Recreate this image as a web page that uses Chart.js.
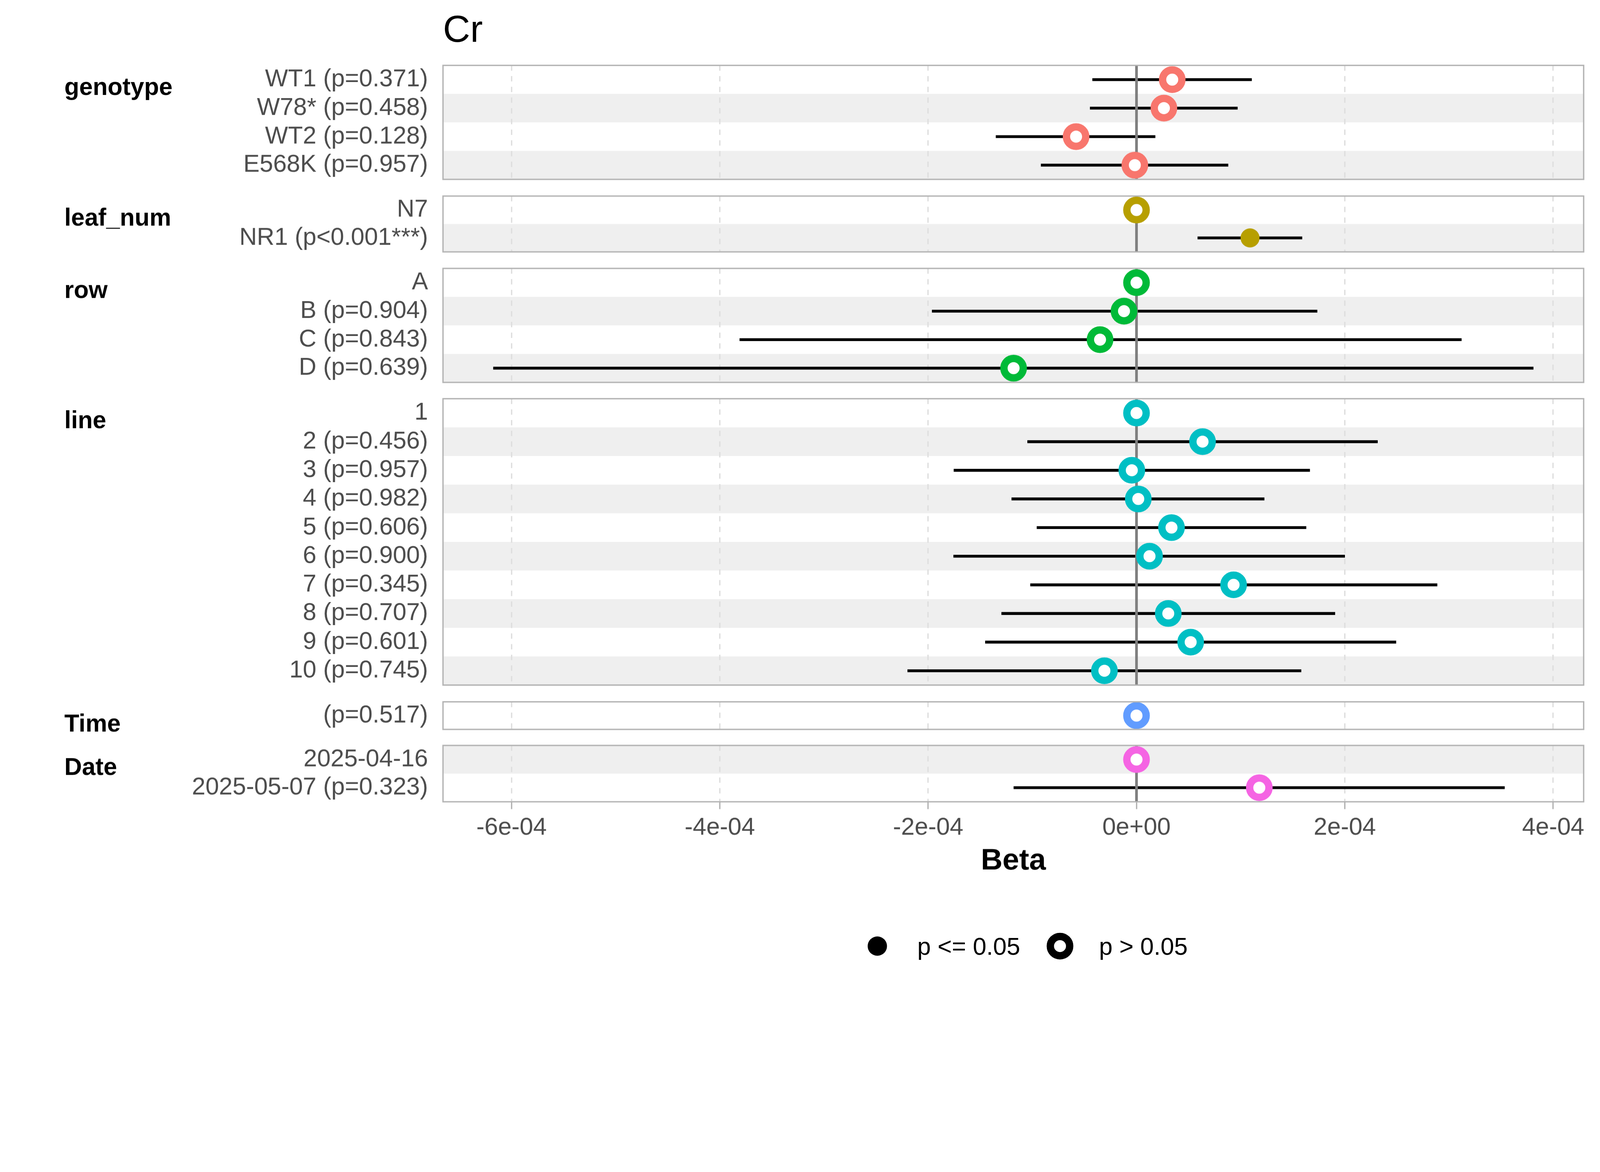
<!DOCTYPE html>
<html>
<head>
<meta charset="utf-8">
<title>Cr</title>
<script src="https://cdn.jsdelivr.net/npm/chart.js@4.4.1/dist/chart.umd.min.js"></script>
<style>
    html, body { margin: 0; padding: 0; background: #ffffff; overflow: hidden; }
    #viewport { position: relative; overflow: hidden; }
    #page {
        position: absolute;
        left: 0;
        top: 0;
        width: 4800px;
        height: 3000px;
        transform-origin: 0 0;
        font-family: "Liberation Sans", Arial, sans-serif;
    }
    #page canvas { position: absolute; left: 0; }
    #title {
        position: absolute;
        left: 1329px;
        top: 30px;
        font-size: 113px;
        line-height: 1;
        color: #000000;
    }
    .legend-text {
        position: absolute;
        top: 2802px;
        font-size: 73px;
        line-height: 1;
        color: #000000;
        white-space: nowrap;
    }
    .legend-dot {
        position: absolute;
        box-sizing: border-box;
        border-radius: 50%;
    }
</style>
</head>
<body>
<div id="viewport">
<div id="page">
    <div id="title">Cr</div>

    <div class="legend-dot" style="left:2603px; top:2809px; width:58px; height:58px; background:#000000;"></div>
    <div class="legend-text" style="left:2752px;">p &lt;= 0.05</div>
    <div class="legend-dot" style="left:3140px; top:2798px; width:80px; height:80px; background:#ffffff; border:22px solid #000000;"></div>
    <div class="legend-text" style="left:3297px;">p &gt; 0.05</div>
</div>
</div>

<script>
// ---- data (beta estimates, 95% CI and p-values) ----
const genotypeLabels = ['WT1 (p=0.371)', 'W78* (p=0.458)', 'WT2 (p=0.128)', 'E568K (p=0.957)'];
const genotypeBeta = [0.343e-4, 0.263e-4, -0.58e-4, -0.016e-4];
const genotypeLow = [-0.423e-4, -0.446e-4, -1.35e-4, -0.917e-4];
const genotypeHigh = [1.106e-4, 0.97e-4, 0.18e-4, 0.88e-4];
const genotypeP = [0.371, 0.458, 0.128, 0.957];

const leafLabels = ['N7', 'NR1 (p<0.001***)'];
const leafBeta = [0, 1.09e-4];
const leafLow = [null, 0.587e-4];
const leafHigh = [null, 1.59e-4];
const leafP = [null, 0.001];

const rowLabels = ['A', 'B (p=0.904)', 'C (p=0.843)', 'D (p=0.639)'];
const rowBeta = [0, -0.12e-4, -0.35e-4, -1.18e-4];
const rowLow = [null, -1.963e-4, -3.81e-4, -6.175e-4];
const rowHigh = [null, 1.735e-4, 3.12e-4, 3.81e-4];
const rowP = [null, 0.904, 0.843, 0.639];

const lineLabels = ['1', '2 (p=0.456)', '3 (p=0.957)', '4 (p=0.982)', '5 (p=0.606)',
    '6 (p=0.900)', '7 (p=0.345)', '8 (p=0.707)', '9 (p=0.601)', '10 (p=0.745)'];
const lineBeta = [0, 0.634e-4, -0.045e-4, 0.017e-4, 0.336e-4, 0.125e-4, 0.932e-4, 0.305e-4, 0.52e-4, -0.308e-4];
const lineLow = [null, -1.047e-4, -1.754e-4, -1.199e-4, -0.957e-4, -1.757e-4, -1.019e-4, -1.296e-4, -1.452e-4, -2.198e-4];
const lineHigh = [null, 2.315e-4, 1.664e-4, 1.227e-4, 1.629e-4, 2.0e-4, 2.887e-4, 1.906e-4, 2.492e-4, 1.581e-4];
const lineP = [null, 0.456, 0.957, 0.982, 0.606, 0.900, 0.345, 0.707, 0.601, 0.745];

const timeLabels = ['(p=0.517)'];
const timeBeta = [0];
const timeLow = [null];
const timeHigh = [null];
const timeP = [0.517];

const dateLabels = ['2025-04-16', '2025-05-07 (p=0.323)'];
const dateBeta = [0, 1.179e-4];
const dateLow = [null, -1.179e-4];
const dateHigh = [null, 3.534e-4];
const dateP = [null, 0.323];

const xTicks = [-6e-4, -4e-4, -2e-4, 0, 2e-4, 4e-4];
const xTickLabels = ['-6e-04', '-4e-04', '-2e-04', '0e+00', '2e-04', '4e-04'];
const xMin = -6.658e-4;
const xMax = 4.293e-4;

// ---- layout / style ----
const panels = [
    {name: 'genotype', labels: genotypeLabels, beta: genotypeBeta, low: genotypeLow, high: genotypeHigh, p: genotypeP},
    {name: 'leaf_num', labels: leafLabels, beta: leafBeta, low: leafLow, high: leafHigh, p: leafP},
    {name: 'row', labels: rowLabels, beta: rowBeta, low: rowLow, high: rowHigh, p: rowP},
    {name: 'line', labels: lineLabels, beta: lineBeta, low: lineLow, high: lineHigh, p: lineP},
    {name: 'Time', labels: timeLabels, beta: timeBeta, low: timeLow, high: timeHigh, p: timeP},
    {name: 'Date', labels: dateLabels, beta: dateBeta, low: dateLow, high: dateHigh, p: dateP}
];
const panelColors = ['#F8766D', '#B79F00', '#00BA38', '#00BFC4', '#619CFF', '#F564E3'];
const panelBoxes = [[196, 537], [588, 755], [805, 1146], [1196, 2055], [2105, 2187], [2236, 2405]];
const stripeParity = [1, 1, 1, 1, 1, 0];

const FONT = '"Liberation Sans", Arial, sans-serif';
const PAD = 24;
const AXIS_H = 250;

Chart.defaults.font.family = FONT;
Chart.defaults.color = '#4d4d4d';

// the drawing is laid out on a 4800 x 3000 grid and scaled to the window
const viewport = document.getElementById('viewport');
const page = document.getElementById('page');
const scale = Math.min(window.innerWidth / 4800, window.innerHeight / 3000);
viewport.style.width = window.innerWidth + 'px';
viewport.style.height = window.innerHeight + 'px';
page.style.transform = 'scale(' + scale + ')';
const pixelRatio = (window.devicePixelRatio || 1) * scale;

panels.forEach(function(panel, k) {
    const isLast = k === panels.length - 1;
    const top = panelBoxes[k][0];
    const areaH = panelBoxes[k][1] - top;
    const color = panelColors[k];
    const sig = panel.p.map(v => v !== null && v <= 0.05);

    const canvas = document.createElement('canvas');
    canvas.width = 4800;
    canvas.height = areaH + PAD + (isLast ? AXIS_H : PAD);
    canvas.style.top = (top - PAD) + 'px';
    page.appendChild(canvas);

    // stripes, zero line, panel frame and facet label
    const panelDecor = {
        id: 'panelDecor',
        beforeDraw(chart) {
            const {ctx, chartArea} = chart;
            const y = chart.scales.y;
            const rowH = chartArea.height / panel.labels.length;
            ctx.save();
            ctx.fillStyle = '#efefef';
            panel.labels.forEach(function(_, i) {
                if (i % 2 === stripeParity[k]) {
                    const cy = y.getPixelForValue(i);
                    ctx.fillRect(chartArea.left, cy - rowH / 2, chartArea.width, rowH);
                }
            });
            ctx.restore();
        },
        afterDatasetDraw(chart, args) {
            if (args.meta.type !== 'bar') return;
            const {ctx, chartArea} = chart;
            const x0 = chart.scales.x.getPixelForValue(0);
            ctx.save();
            ctx.strokeStyle = '#7f7f7f';
            ctx.lineWidth = 8;
            ctx.beginPath();
            ctx.moveTo(x0, chartArea.top);
            ctx.lineTo(x0, chartArea.bottom);
            ctx.stroke();
            ctx.restore();
        },
        afterDraw(chart) {
            const {ctx, chartArea} = chart;
            ctx.save();
            ctx.strokeStyle = '#b3b3b3';
            ctx.lineWidth = 4;
            ctx.strokeRect(chartArea.left, chartArea.top, chartArea.width, chartArea.height);
            ctx.fillStyle = '#000000';
            ctx.font = 'bold 73px ' + FONT;
            ctx.textAlign = 'left';
            ctx.textBaseline = 'alphabetic';
            ctx.fillText(panel.name, 193, chartArea.top + 88);
            ctx.restore();
        }
    };

    new Chart(canvas.getContext('2d'), {
        type: 'bar',
        data: {
            labels: panel.labels,
            datasets: [{
                type: 'scatter',
                data: panel.beta.map((b, i) => ({x: b, y: i})),
                pointRadius: sig.map(s => s ? 28.5 : 29),
                pointBorderWidth: sig.map(s => s ? 0 : 22),
                pointBackgroundColor: sig.map(s => s ? color : '#ffffff'),
                pointBorderColor: color,
                clip: false,
                order: 1
            }, {
                type: 'bar',
                data: panel.low.map((lo, i) => lo === null ? null : [lo, panel.high[i]]),
                backgroundColor: '#000000',
                borderWidth: 0,
                barThickness: 8,
                order: 2
            }]
        },
        options: {
            indexAxis: 'y',
            responsive: false,
            animation: false,
            devicePixelRatio: pixelRatio,
            events: [],
            layout: {
                autoPadding: false,
                padding: {left: 0, right: 49, top: PAD, bottom: isLast ? 0 : PAD}
            },
            plugins: {
                legend: {display: false},
                tooltip: {enabled: false}
            },
            scales: {
                x: {
                    type: 'linear',
                    min: xMin,
                    max: xMax,
                    afterBuildTicks: s => { s.ticks = xTicks.map(v => ({value: v})); },
                    afterFit: s => {
                        s.height = isLast ? AXIS_H : 0;
                        s.paddingLeft = 0;
                        s.paddingRight = 0;
                    },
                    grid: {
                        color: '#dedede',
                        lineWidth: 4,
                        drawTicks: isLast,
                        tickLength: 22,
                        tickColor: '#b3b3b3',
                        tickWidth: 4
                    },
                    border: {display: false, dash: [16, 16]},
                    ticks: {
                        display: isLast,
                        callback: (v, i) => xTickLabels[i],
                        padding: 13,
                        maxRotation: 0,
                        font: {size: 73},
                        color: '#4d4d4d'
                    },
                    title: {
                        display: isLast,
                        text: 'Beta',
                        color: '#000000',
                        font: {size: 90, weight: 'bold'},
                        padding: {top: 0, bottom: 18}
                    }
                },
                y: {
                    type: 'category',
                    offset: true,
                    afterFit: s => {
                        s.width = 1329;
                        s.paddingTop = 0;
                        s.paddingBottom = 0;
                    },
                    grid: {display: false, drawTicks: false},
                    border: {display: false},
                    ticks: {
                        autoSkip: false,
                        padding: 45,
                        font: {size: 73, lineHeight: 1},
                        color: '#4d4d4d'
                    }
                }
            }
        },
        plugins: [panelDecor]
    });
});
</script>
</body>
</html>
